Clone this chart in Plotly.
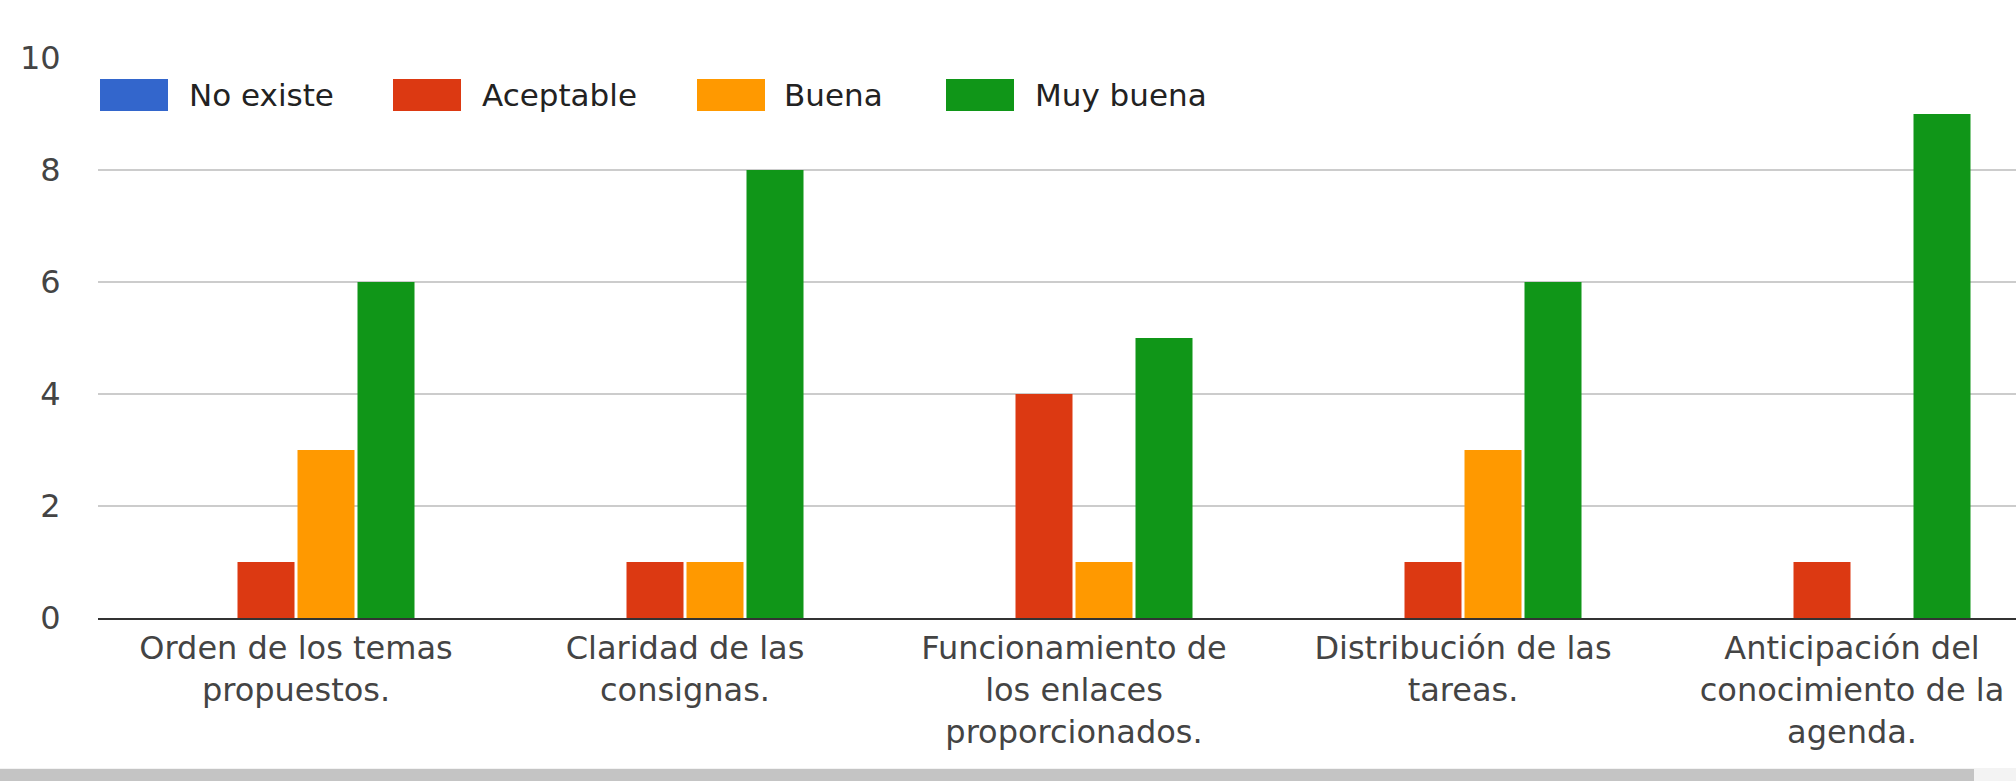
import plotly.graph_objects as go

categories = [
    "Orden de los temas<br>propuestos.",
    "Claridad de las<br>consignas.",
    "Funcionamiento de<br>los enlaces<br>proporcionados.",
    "Distribución de las<br>tareas.",
    "Anticipación del<br>conocimiento de la<br>agenda.",
]
series_names = ["No existe", "Aceptable", "Buena", "Muy buena"]
no_existe = [0, 0, 0, 0, 0]
aceptable = [1, 1, 4, 1, 1]
buena = [3, 1, 1, 3, 0]
muy_buena = [6, 8, 5, 6, 9]
y_ticks = [0, 2, 4, 6, 8, 10]

colors = ["#3366cc", "#dc3912", "#ff9900", "#109618"]
values = [no_existe, aceptable, buena, muy_buena]

W, H = 2016, 781
ML, MR, MT, MB = 98, 0, 58, 163
PW, PH = W - ML - MR, H - MT - MB
FONT = "DejaVu Sans, Arial, sans-serif"
FS = 32
FS_LEG = 31


def px_x(px):
    return (px - ML) / PW


def px_y(py):
    return (H - MB - py) / PH


fig = go.Figure()
for name, vals, col in zip(series_names, values, colors):
    fig.add_trace(go.Bar(
        x=list(range(len(categories))), y=vals, name=name,
        marker=dict(color=col, line=dict(width=0)),
        showlegend=False, hoverinfo="skip",
    ))

# manual legend (swatches + labels)
legend_pos = [(100, 187), (393, 480), (697, 782), (946, 1033)]
shapes = []
annotations = []
for (sx, tx), name, col in zip(legend_pos, series_names, colors):
    shapes.append(dict(type="rect", xref="paper", yref="paper",
                       x0=px_x(sx), x1=px_x(sx + 68), y0=px_y(111), y1=px_y(79),
                       fillcolor=col, line=dict(width=0), layer="above"))
    annotations.append(dict(xref="paper", yref="paper", x=px_x(tx), y=px_y(95),
                            text=name, showarrow=False, xanchor="left", yanchor="middle",
                            font=dict(size=FS_LEG, color="#222222", family=FONT)))

# bottom scrollbar
shapes.append(dict(type="rect", xref="paper", yref="paper",
                   x0=px_x(0), x1=px_x(W), y0=px_y(H), y1=px_y(768),
                   fillcolor="#f3f3f3", line=dict(width=0)))
shapes.append(dict(type="rect", xref="paper", yref="paper",
                   x0=px_x(0), x1=px_x(1974), y0=px_y(H), y1=px_y(769),
                   fillcolor="#c4c4c4", line=dict(width=0)))

fig.update_layout(
    width=W, height=H,
    margin=dict(l=ML, r=MR, t=MT, b=MB, pad=0),
    paper_bgcolor="white", plot_bgcolor="white",
    barmode="group", bargap=0.383, bargroupgap=0.05,
    font=dict(family=FONT, size=FS, color="#444444"),
    shapes=shapes, annotations=annotations,
    xaxis=dict(
        range=[(ML - 296) / 389, (W - 296) / 389],
        tickmode="array", tickvals=list(range(len(categories))), ticktext=categories,
        showgrid=False, zeroline=False,
        showline=True, linecolor="#333333", linewidth=2,
        ticks="outside", ticklen=1, tickcolor="rgba(0,0,0,0)",
        tickfont=dict(size=FS, color="#444444", family=FONT),
        automargin=False,
    ),
    yaxis=dict(
        range=[0, 10], tickvals=y_ticks,
        showgrid=True, gridcolor="#cccccc", gridwidth=2,
        zeroline=False, showline=False,
        ticks="outside", ticklen=30, tickcolor="rgba(0,0,0,0)",
        tickfont=dict(size=FS, color="#444444", family=FONT),
        automargin=False,
    ),
)

fig.write_html(
    "out.html",
    config={"displayModeBar": False},
    post_script="document.body.style.margin='0';document.body.style.overflow='hidden';",
)
